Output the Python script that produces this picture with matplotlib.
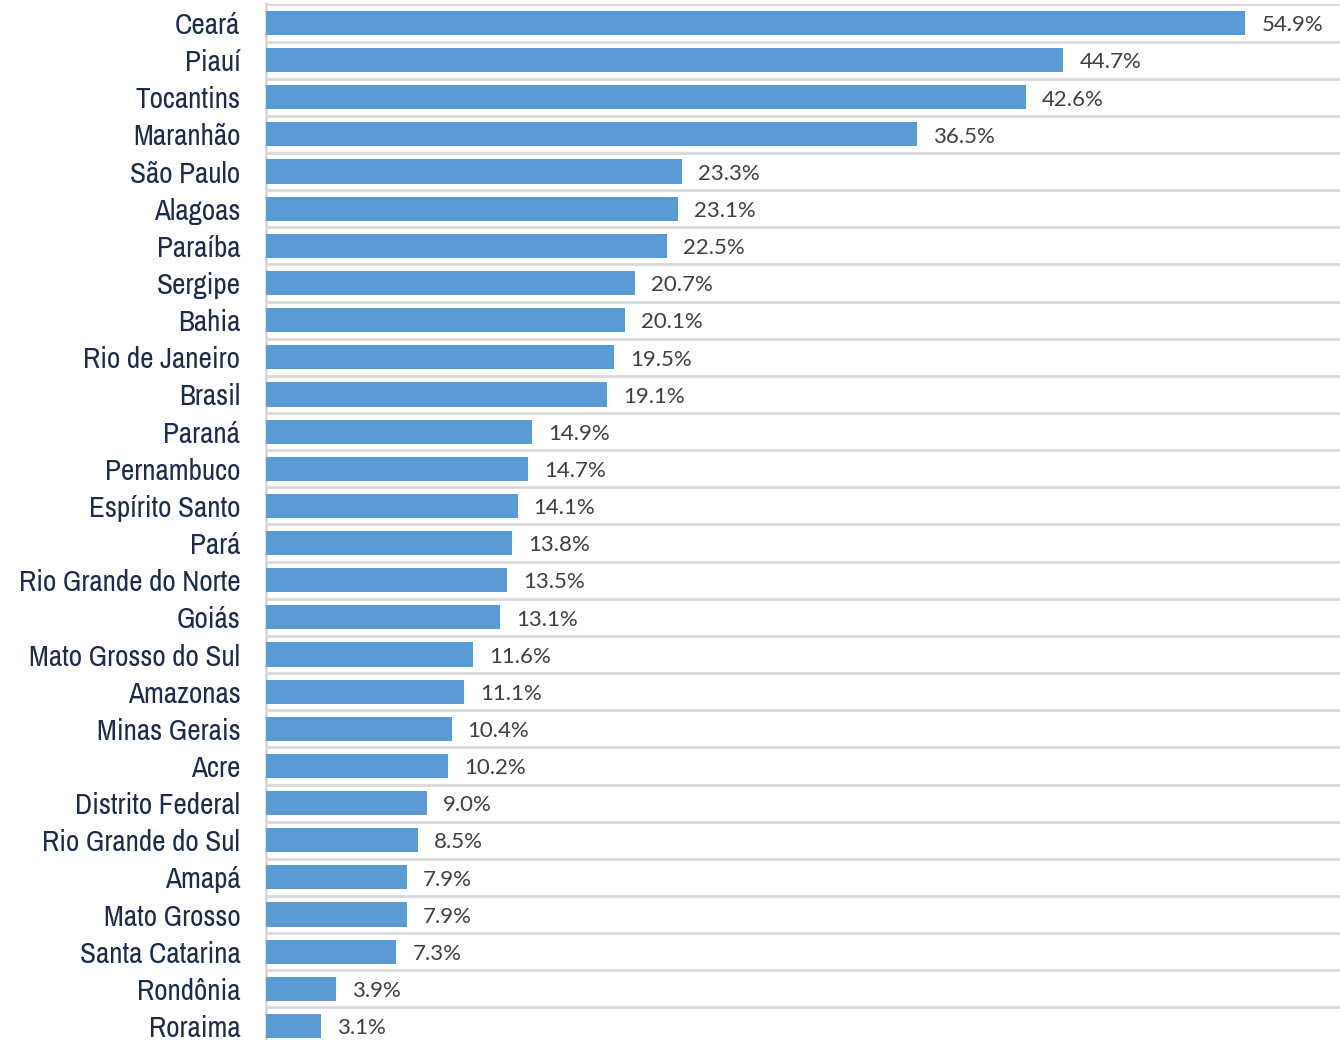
import matplotlib.pyplot as plt
from matplotlib import font_manager

# data
states = ["Ceará", "Piauí", "Tocantins", "Maranhão", "São Paulo", "Alagoas",
          "Paraíba", "Sergipe", "Bahia", "Rio de Janeiro", "Brasil", "Paraná",
          "Pernambuco", "Espírito Santo", "Pará", "Rio Grande do Norte", "Goiás",
          "Mato Grosso do Sul", "Amazonas", "Minas Gerais", "Acre",
          "Distrito Federal", "Rio Grande do Sul", "Amapá", "Mato Grosso",
          "Santa Catarina", "Rondônia", "Roraima"]
values = [54.9, 44.7, 42.6, 36.5, 23.3, 23.1, 22.5, 20.7, 20.1, 19.5, 19.1, 14.9,
          14.7, 14.1, 13.8, 13.5, 13.1, 11.6, 11.1, 10.4, 10.2, 9.0, 8.5, 7.9,
          7.9, 7.3, 3.9, 3.1]

# look for a narrow sans for the state names
fonts = font_manager.fontManager.ttflist
label_kw = None
for f in fonts:
    if any(k in f.name for k in ("Narrow", "Condensed")) and f.style == "normal":
        label_kw = dict(family=[f.name, "DejaVu Sans"], fontsize=21)
        break
if label_kw is None:
    for f in fonts:
        st = f.stretch if isinstance(f.stretch, str) else ""
        if st in ("condensed", "semi-condensed") or (isinstance(f.stretch, int) and f.stretch < 500):
            label_kw = dict(family=[f.name, "DejaVu Sans"], fontstretch=f.stretch, fontsize=19)
            break
if label_kw is None:
    label_kw = dict(family=["Roboto", "DejaVu Sans"], fontsize=16.5)

fig = plt.figure(figsize=(13.4, 10.4), dpi=100)
fig.set_facecolor("white")
ax = fig.add_axes([266 / 1340, 0.0, 1 - 266 / 1340, 1 - 4.4 / 1040])

y = list(range(len(states)))
ax.barh(y, values, height=0.65, color="#5b9bd5", zorder=3)

ax.set_xlim(0, 60.2)
ax.set_ylim(27 + (1040 - 1026) / 37.15, -0.5)

# separators between rows
for i in range(len(states)):
    ax.axhline(i - 0.5, color="#d9d9d9", lw=2, zorder=1)

ax.set_yticks(y)
ax.set_yticklabels(states, color="#1c2c4c", **label_kw)
ax.tick_params(axis="y", length=0, pad=18.5)
ax.set_xticks([])

for s in ["top", "right", "bottom"]:
    ax.spines[s].set_visible(False)
ax.spines["left"].set_color("#d9d9d9")
ax.spines["left"].set_linewidth(2)

for i, v in enumerate(values):
    ax.text(v + 0.9, i + 0.06, f"{v:.1f}%", ha="left", va="center", fontsize=16,
            color="#404040", family=["Lato", "DejaVu Sans"], zorder=4)

plt.savefig("out.png", dpi=100, facecolor=fig.get_facecolor())
